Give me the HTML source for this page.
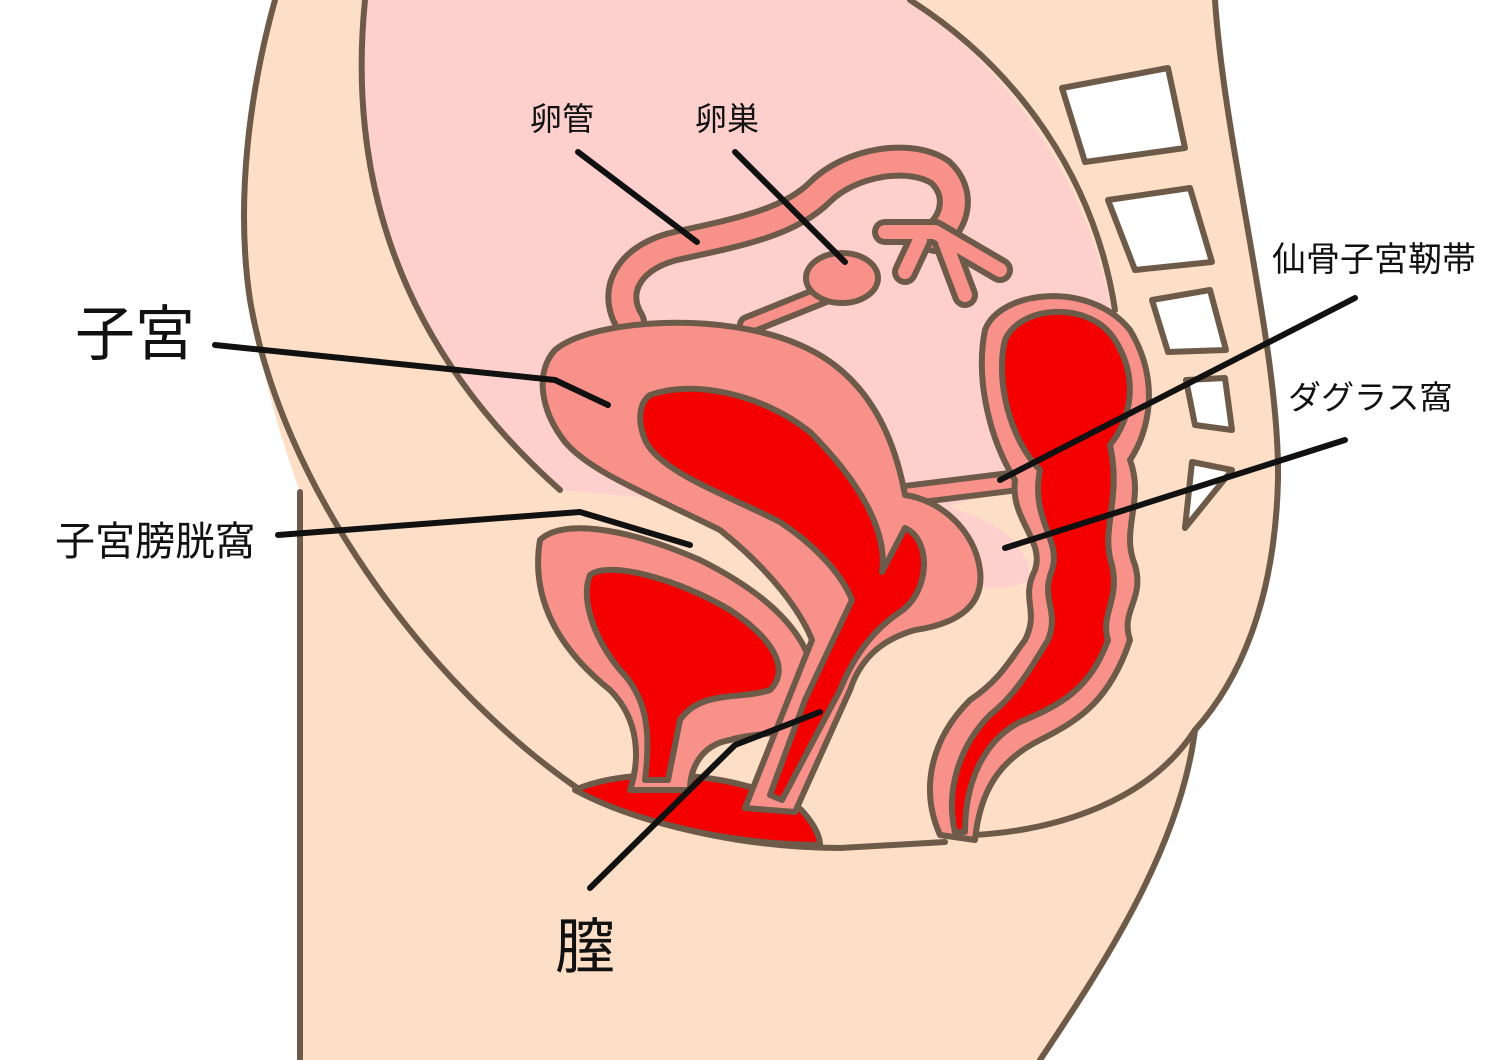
<!DOCTYPE html>
<html><head><meta charset="utf-8"><style>
html,body{margin:0;padding:0;background:#fff;width:1500px;height:1060px;overflow:hidden}
svg{display:block}
text{font-family:"Liberation Sans","Noto Sans CJK JP",sans-serif;fill:#111}
</style></head><body>
<svg width="1500" height="1060" viewBox="0 0 1500 1060" xmlns="http://www.w3.org/2000/svg">
<g stroke="#6E5A48" stroke-width="6" stroke-linejoin="round" stroke-linecap="round">
<!-- body -->
<path d="M275,0 L1215,0 C1225,150 1280,350 1278,480 C1275,600 1240,680 1195,730 C1180,850 1100,970 1040,1060 L300,1060 L300,492 C285,450 265,390 250,300 C235,200 250,90 275,0 Z" fill="#FDDEC6" stroke="none"/>
<path d="M275,0 C250,90 235,200 250,300 C280,480 420,680 580,790" fill="none"/>
<path d="M300,492 L300,1060" fill="none"/>
<path d="M1215,0 C1225,150 1280,350 1278,480 C1275,600 1240,680 1195,730" fill="none"/>
<path d="M1195,730 C1180,850 1100,970 1040,1060" fill="none"/>
<path d="M1195,730 C1150,800 1060,830 975,835" fill="none"/>
<path d="M580,790 C650,830 760,848 840,848 L945,842" fill="none"/>
<!-- cavity -->
<path d="M365,0 C350,150 380,330 560,490 L900,520 L1110,460 C1140,330 1090,130 910,0 Z" fill="#FDD0CE" stroke="none"/>
<path d="M365,0 C350,150 380,330 560,490" fill="none"/>
<path d="M910,0 C1020,70 1095,180 1115,310" fill="none"/>
<path d="M945,505 C990,520 1030,540 1030,580 C1010,590 990,590 975,585 Z" fill="#FDD0CE" stroke="none"/>
<!-- vertebrae -->
<path d="M1062,88 L1168,68 L1185,148 L1085,162 Z" fill="#fff"/>
<path d="M1108,200 L1190,188 L1212,262 L1135,270 Z" fill="#fff"/>
<path d="M1152,300 L1210,290 L1226,350 L1168,352 Z" fill="#fff"/>
<path d="M1186,380 L1225,378 L1232,430 L1195,425 Z" fill="#fff"/>
<path d="M1192,462 L1232,470 L1185,528 Z" fill="#fff"/>
<!-- floor red -->
<path d="M575,790 C620,770 700,770 760,790 L790,800 C810,815 820,835 820,845 C740,845 640,825 575,790 Z" fill="#F40000"/>
<!-- fallopian tube -->
<path d="M630,322 C610,290 630,255 680,245 C740,232 790,222 820,192 C850,162 910,152 940,172 C962,192 956,222 935,237" fill="none" stroke-width="34"/>
<path d="M630,322 C610,290 630,255 680,245 C740,232 790,222 820,192 C850,162 910,152 940,172 C962,192 956,222 935,237" fill="none" stroke="#F8918A" stroke-width="22"/>
<path d="M885,232 L935,232 L1000,270 M920,240 L905,272 M945,242 L965,295" fill="none" stroke-width="26"/>
<path d="M885,232 L935,232 L1000,270 M920,240 L905,272 M945,242 L965,295" fill="none" stroke="#F8918A" stroke-width="14"/>
<path d="M835,290 L748,325" fill="none" stroke-width="22"/>
<path d="M835,290 L748,325" fill="none" stroke="#F8918A" stroke-width="10"/>
<ellipse cx="842" cy="278" rx="36" ry="25" fill="#F8918A"/>
<!-- sacro-uterine ligament -->
<path d="M905,495 L1010,482" fill="none" stroke-width="24"/>
<path d="M905,495 L1010,482" fill="none" stroke="#F8918A" stroke-width="12"/>
<!-- bladder -->
<path d="M540,540 C560,520 620,525 700,560 C770,595 820,640 815,700 C810,740 760,730 730,740 C700,745 690,770 690,790 L630,790 C640,760 640,720 610,690 C560,650 530,600 540,540 Z" fill="#F8918A"/>
<path d="M590,575 C610,560 680,580 730,610 C775,640 790,670 770,690 C740,700 700,690 680,720 L668,780 L645,780 C650,740 650,700 620,670 C595,640 580,600 590,575 Z" fill="#F40000"/>
<!-- uterus -->
<path d="M555,350 C590,320 720,310 800,345 C870,375 895,440 905,495 C940,500 975,530 980,570 C985,610 950,625 915,630 C880,640 860,660 850,690 L795,812 L745,808 L812,640 C800,610 770,570 720,530 C650,495 590,472 565,442 C540,410 535,372 555,350 Z" fill="#F8918A"/>
<path d="M650,395 C690,380 760,392 810,432 C858,480 888,530 882,572 L905,528 C932,540 930,592 900,612 C870,632 852,660 840,690 L782,800 L770,795 L805,700 L852,600 C840,570 810,542 780,522 C720,492 662,472 646,442 C636,420 640,402 650,395 Z" fill="#F40000"/>
<!-- rectum -->
<path d="M985,330 C1000,290 1090,280 1130,330 C1160,380 1150,430 1130,460 C1145,500 1120,530 1135,565 C1145,600 1120,610 1130,640 C1110,700 1080,720 1040,740 C1000,760 980,790 975,840 L940,835 C920,790 930,740 970,700 C1000,680 1010,660 1025,640 C1040,610 1020,600 1035,570 C1045,540 1010,520 1015,480 C990,440 975,380 985,330 Z" fill="#F8918A"/>
<path d="M1005,340 C1020,305 1090,300 1115,340 C1140,380 1130,420 1110,445 C1122,500 1100,530 1112,565 C1120,600 1100,615 1108,640 C1090,690 1060,705 1020,722 C985,740 965,780 965,832 L955,832 C945,790 960,745 990,715 C1015,695 1030,670 1048,640 C1060,610 1040,600 1052,570 C1062,540 1030,520 1040,470 C1010,440 995,380 1005,340 Z" fill="#F40000"/>
</g>
<!-- label lines -->
<g stroke="#111" stroke-width="6" fill="none" stroke-linecap="round" stroke-linejoin="round">
<path d="M578,152 L697,242"/>
<path d="M735,152 L845,262"/>
<path d="M215,345 L555,380 L608,405"/>
<path d="M278,535 L580,512 L690,545"/>
<path d="M1355,298 L1000,480"/>
<path d="M1345,440 L1005,548"/>
<path d="M590,888 L735,745 L820,712"/>
</g>
<text x="530" y="130" font-size="32">卵管</text>
<text x="695" y="130" font-size="32">卵巣</text>
<text x="75" y="355" font-size="60">子宮</text>
<text x="55" y="555" font-size="40">子宮膀胱窩</text>
<text x="1272" y="271" font-size="34">仙骨子宮靭帯</text>
<text x="1288" y="409" font-size="33">ダグラス窩</text>
<text x="555" y="968" font-size="60">膣</text>
</svg>
</body></html>
